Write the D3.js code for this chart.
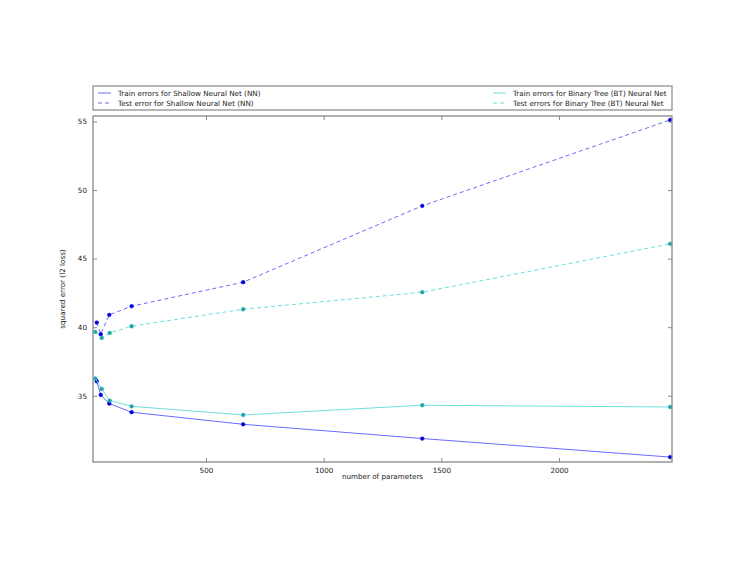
<!DOCTYPE html>
<html>
<head>
<meta charset="utf-8">
<script src="https://cdn.jsdelivr.net/npm/d3@7"></script>
<style>
  body { margin: 0; background: #fff; }
  text { font-family: "DejaVu Sans", sans-serif; fill: #222; }
</style>
</head>
<body>
<svg id="chart" width="747" height="578"></svg>
<script>
// number of parameters per model
let nn_params = [36, 53, 89, 184, 658, 1419, 2472]
let bt_params = [30, 57, 91, 184, 658, 1419, 2472]

// squared errors
let nn_train = [36.06, 35.06, 34.43, 33.80, 32.92, 31.88, 30.53]
let nn_test = [40.34, 39.49, 40.90, 41.53, 43.28, 48.85, 55.11]
let bt_train = [36.26, 35.50, 34.65, 34.23, 33.60, 34.31, 34.18]
let bt_test = [39.66, 39.22, 39.58, 40.07, 41.31, 42.55, 46.08]

let x_ticks = [500, 1000, 1500, 2000]
let y_ticks = [35, 40, 45, 50, 55]

let series_names = [
  "Train errors for Shallow Neural Net (NN)",
  "Test error for Shallow Neural Net (NN)",
  "Train errors for Binary Tree (BT) Neural Net",
  "Test errors for Binary Tree (BT) Neural Net"
]

let series = [
  {name: series_names[0], x: nn_params, y: nn_train, line: "#6b6bff", dot: "#0000dd", dash: null},
  {name: series_names[1], x: nn_params, y: nn_test, line: "#6b6bff", dot: "#0000dd", dash: "4,3"},
  {name: series_names[2], x: bt_params, y: bt_train, line: "#6ee0dc", dot: "#1fa5a5", dash: null},
  {name: series_names[3], x: bt_params, y: bt_test, line: "#6ee0dc", dot: "#1fa5a5", dash: "4,3"}
]

let margin = {top: 116, right: 75, bottom: 116, left: 93}
let W = 747, H = 578
let font_size = "7.2px"

// small helper since d3-selection-multi isn't loaded
d3.selection.prototype.attrs = function(obj) {
  for (let k in obj) this.attr(k, obj[k])
  return this
}

function make_scales() {
  return {
    x: d3.scaleLinear()
      .domain([20, 2480])
      .range([margin.left, W - margin.right]),
    y: d3.scaleLinear()
      .domain([30.17, 55.4])
      .range([H - margin.bottom, margin.top])
  }
}

function draw_axes(svg, scales) {
  let [x0, x1] = scales.x.range()
  let [y0, y1] = scales.y.range()
  let fmt = d3.format("d")

  // ticks pointing inwards, mirrored on the opposite sides
  let g = svg.append("g")
  g.append("g")
    .attr("transform", `translate(0, ${y0})`)
    .call(d3.axisBottom(scales.x).tickValues(x_ticks).tickSize(-4).tickPadding(6).tickFormat(fmt))
  g.append("g")
    .attr("transform", `translate(0, ${y1})`)
    .call(d3.axisTop(scales.x).tickValues(x_ticks).tickSize(-4).tickFormat(""))
  g.append("g")
    .attr("transform", `translate(${x0}, 0)`)
    .call(d3.axisLeft(scales.y).tickValues(y_ticks).tickSize(-4).tickPadding(6).tickFormat(fmt))
  g.append("g")
    .attr("transform", `translate(${x1}, 0)`)
    .call(d3.axisRight(scales.y).tickValues(y_ticks).tickSize(-4).tickFormat(""))

  g.selectAll(".domain").remove()
  g.selectAll(".tick line").attr("stroke", "#888")
  g.selectAll(".tick text").style("font-size", font_size).attr("fill", "#333")

  svg.append("rect")
    .attrs({x: x0, y: y1, width: x1 - x0, height: y0 - y1})
    .attr("fill", "none")
    .attr("stroke", "#888")
    .attr("stroke-width", 1.3)

  svg.append("text")
    .attr("x", (x0 + x1) / 2)
    .attr("y", y0 + 17)
    .attr("text-anchor", "middle")
    .style("font-size", font_size)
    .text("number of parameters")

  svg.append("text")
    .attr("transform", `translate(65, ${(y0 + y1) / 2}) rotate(-90)`)
    .attr("text-anchor", "middle")
    .style("font-size", font_size)
    .text("squared error (l2 loss)")
}

function draw_lines(svg, scales) {
  let line = d3.line()
    .x(d => scales.x(d[0]))
    .y(d => scales.y(d[1]))

  let g = svg.append("g")
  series.forEach(s => {
    let pts = s.x.map((v, i) => [v, s.y[i]])
    g.append("path")
      .attr("d", line(pts))
      .attr("fill", "none")
      .attr("stroke", s.line)
      .attr("stroke-width", 1)
      .attr("stroke-dasharray", s.dash)
    g.selectAll(null)
      .data(pts).enter()
      .append("circle")
      .attr("cx", d => scales.x(d[0]))
      .attr("cy", d => scales.y(d[1]))
      .attr("r", 1.9)
      .attr("fill", s.dot)
      .attr("stroke", s.dot)
      .attr("stroke-width", 0.4)
  })
}

function draw_legend(svg) {
  let g = svg.append("g")
  g.append("rect")
    .attr("x", 93).attr("y", 86)
    .attr("width", 579).attr("height", 24)
    .attr("fill", "#fff")
    .attr("stroke", "#888")
    .attr("stroke-width", 1.2)

  let pos = [[98, 93], [98, 103], [493, 93], [493, 103]]
  series.forEach((s, i) => {
    let [lx, ly] = pos[i]
    g.append("line")
      .attr("x1", lx).attr("x2", lx + 13)
      .attr("y1", ly).attr("y2", ly)
      .attr("stroke", s.line)
      .attr("stroke-width", 1)
      .attr("stroke-dasharray", s.dash)
    g.append("text")
      .attr("x", lx + 20)
      .attr("y", ly)
      .attr("dy", "0.35em")
      .style("font-size", font_size)
      .text(s.name)
  })
}

let svg = d3.select("#chart")
let scales = make_scales()
draw_lines(svg, scales)
draw_axes(svg, scales)
draw_legend(svg)
</script>
</body>
</html>
